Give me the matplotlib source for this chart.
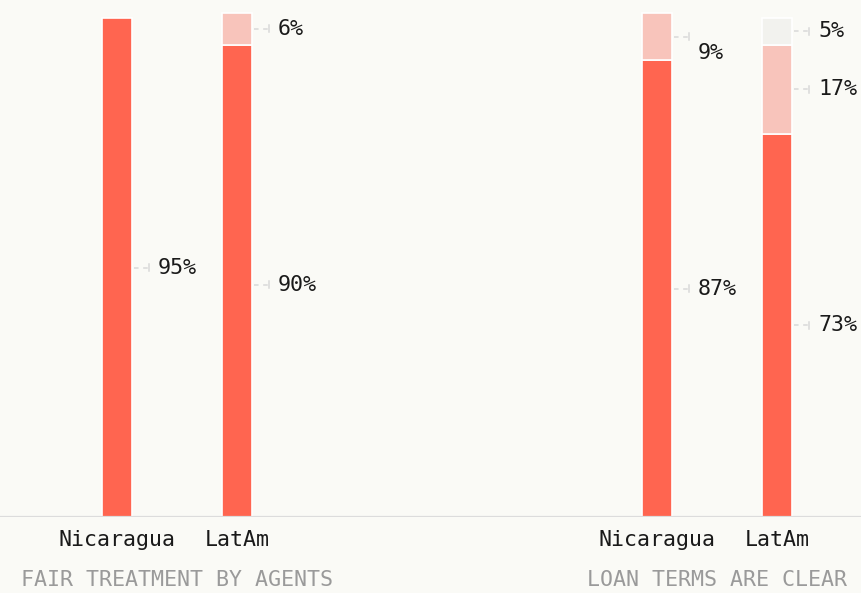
import matplotlib
matplotlib.use("Agg")
import matplotlib.pyplot as plt
import numpy as np

# Survey shares (%) per group, stacked bottom to top
groups = ["FAIR TREATMENT BY AGENTS", "LOAN TERMS ARE CLEAR"]
categories = ["Nicaragua", "LatAm"]
fair_nicaragua = [95]
fair_latam = [90, 6]
loan_nicaragua = [87, 9]
loan_latam = [73, 17, 5]

BG = "#FAFAF6"
SEG_COLORS = ["#FF6550", "#F8C4BB", "#F2F2EE"]
FONT = ["DejaVu Sans Mono"]
FS = 15.6

W, H = 861, 593
fig = plt.figure(figsize=(W / 100, H / 100), dpi=100, facecolor=BG)
base_px = 517
ax = fig.add_axes([0, (H - base_px) / H, 1, base_px / H])
ax.set_facecolor(BG)
ymax = base_px / 5.25
ax.set_ylim(0, ymax)
x0_px, step_px = 117, 120
ax.set_xlim(-x0_px / step_px, (W - x0_px) / step_px)
for s in ax.spines.values():
    s.set_visible(False)
ax.set_xticks([])
ax.set_yticks([])

bars = [fair_nicaragua, fair_latam, loan_nicaragua, loan_latam]
xpos = [0, 1, 4.5, 5.5]
width = 0.25
px = 1 / step_px  # one pixel in x data units
py = ymax / base_px  # one pixel in y data units

# label nudges (in pixels, downward) to keep labels from colliding
nudge = {(2, 1): 16, (1, 0): 4}

for bi, (x, vals) in enumerate(zip(xpos, bars)):
    bottom = 0
    for si, v in enumerate(vals):
        ax.bar(x, v, width=width, bottom=bottom, color=SEG_COLORS[si],
               edgecolor="white", linewidth=1.2, zorder=2)
        yc = bottom + v / 2 - nudge.get((bi, si), 0) * py * (si == 0)
        xs = x + width / 2 + 2 * px
        ax.plot([xs, xs + 15 * px], [yc, yc], color="#D9D9D9", lw=1.1,
                linestyle=(0, (3, 3)), zorder=1, solid_capstyle="butt")
        ax.plot([xs + 15 * px, xs + 15 * px], [yc - 3.5 * py, yc + 3.5 * py],
                color="#D9D9D9", lw=1.1, zorder=1)
        ty = yc - nudge.get((bi, si), 0) * py * (si != 0)
        ax.text(xs + 24 * px, ty, f"{v}%", family=FONT, fontsize=FS,
                color="#1A1A1A", va="center", ha="left")
        bottom += v

ax.axhline(0, color="#DCDCDC", lw=1.6, zorder=3)

# category and group labels below the axis
for x, name in zip(xpos, categories * 2):
    fig.text((x0_px + step_px * x) / W, 1 - 540 / H, name, family=FONT,
             fontsize=FS, color="#1A1A1A", ha="center", va="center")
for gi, g in enumerate(groups):
    xc = (xpos[2 * gi] + xpos[2 * gi + 1]) / 2
    fig.text((x0_px + step_px * xc) / W, 1 - 580 / H, g, family=FONT,
             fontsize=FS, color="#9A9A9A", ha="center", va="center")

fig.savefig("out.png", dpi=100, facecolor=BG)
